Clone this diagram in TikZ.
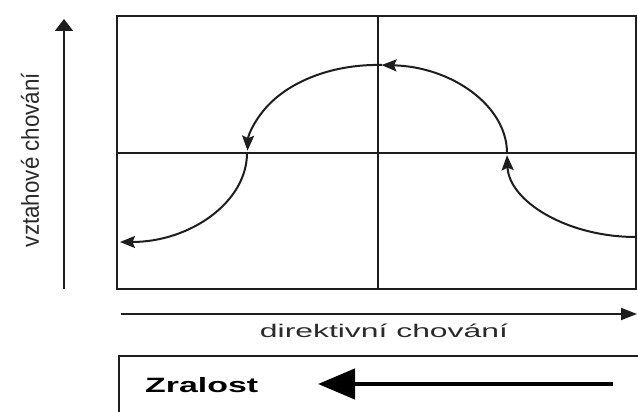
\documentclass[tikz,border=0pt]{standalone}
\usepackage{fontspec}
\setmainfont{Liberation Sans}
\usepackage{graphicx}
\usetikzlibrary{arrows.meta}
\definecolor{ink}{HTML}{1E1E1E}
\definecolor{textink}{HTML}{2A2A2A}
\begin{document}
\begin{tikzpicture}[x=1pt,y=1pt,
  frame/.style={draw=ink,line width=2pt},
  axis/.style={draw=ink,line width=1.8pt},
  curvearrow/.style={draw=ink,line width=2pt,-{Stealth[length=15pt,width=12pt,inset=2.5pt]}},
  lab/.style={inner sep=0pt,text=textink}]
\useasboundingbox (0,0) rectangle (638,412);
\fill[white] (0,0) rectangle (638,412);
% main frame
\coordinate (bl) at (117,123);
\coordinate (tr) at (636,396);
\draw[frame] (bl) rectangle (tr);
\coordinate (mt) at (378,396);
\coordinate (mb) at (378,123);
\coordinate (ml) at (117,259);
\coordinate (mr) at (636,259);
\draw[frame] (mt) -- (mb);
\draw[frame] (ml) -- (mr);
% vertical axis
\coordinate (va0) at (64,123);
\coordinate (va1) at (64,393);
\draw[axis,-{Triangle[length=12pt,width=18pt]}] (va0) -- (va1);
\node[lab,rotate=90] (vlab) at (30,252) {\resizebox{174pt}{18pt}{vztahové chování}};
% horizontal axis
\coordinate (ha0) at (121,98);
\coordinate (ha1) at (637,98);
\draw[axis,-{Triangle[length=16pt,width=12pt]}] (ha0) -- (ha1);
\node[lab,anchor=base] (hlab) at (384,74) {\resizebox{248pt}{13.5pt}{direktivní chování}};
% bottom box
\coordinate (bb0) at (119,-2);
\coordinate (bb1) at (119,56);
\coordinate (bb2) at (640,56);
\draw[frame] (bb0) -- (bb1) -- (bb2);
\node[lab,anchor=base west,text=black] (zr) at (145,19) {\resizebox{113pt}{15pt}{\bfseries Zralost}};
\coordinate (za0) at (613,28);
\coordinate (za1) at (318,28);
\draw[draw=black,line width=4.5pt,-{Triangle[length=37pt,width=30pt]}] (za0) -- (za1);
% curve
\coordinate (c0) at (636,175);
\coordinate (c1) at (507,259);
\coordinate (c2) at (382,347);
\coordinate (c3) at (247,259);
\draw[curvearrow] (c0) arc[start angle=270,end angle=181.5,x radius=129,y radius=84];
\draw[curvearrow] (c1) arc[start angle=0,end angle=88,x radius=130,y radius=88];
\draw[curvearrow] (c2) arc[start angle=88,end angle=178.5,x radius=130,y radius=88];
\draw[curvearrow] (c3) arc[start angle=0,end angle=-90,x radius=127,y radius=89];
\end{tikzpicture}
\end{document}
